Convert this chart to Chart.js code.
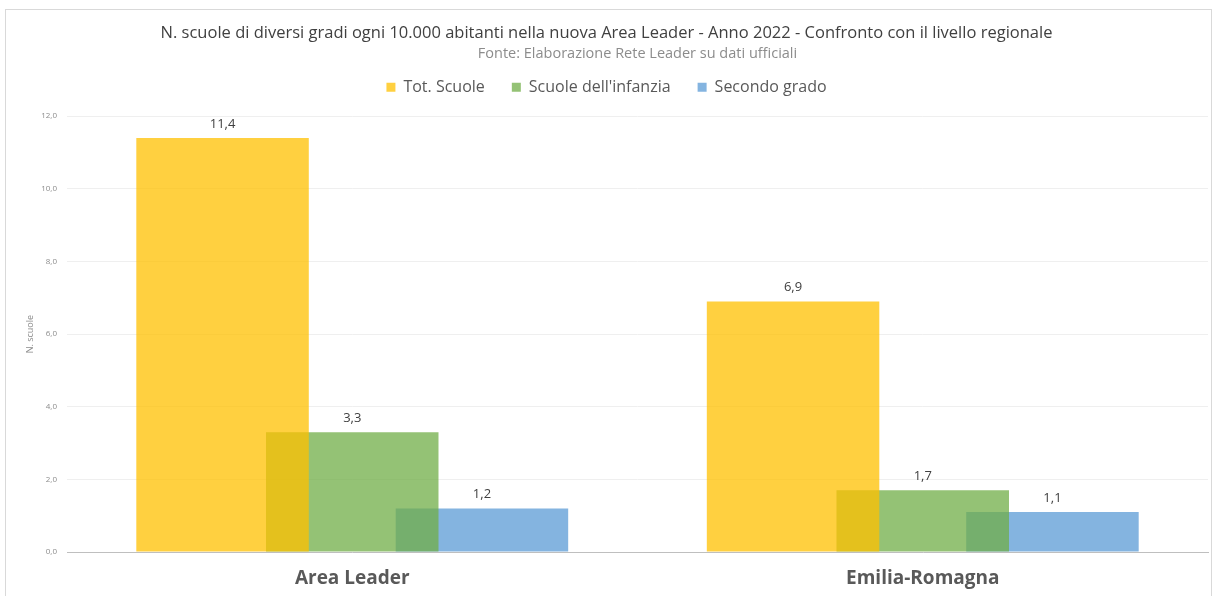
<!DOCTYPE html>
<html>
<head>
<meta charset="utf-8">
<script src="https://cdn.jsdelivr.net/npm/chart.js@4.4.1/dist/chart.umd.min.js"></script>
<style>
  html, body { margin: 0; padding: 0; background: #fff; }
  #wrap { width: 1220px; height: 596px; position: relative; }
</style>
</head>
<body>
<div id="wrap"><canvas id="chart"></canvas></div>
<script>
const categories = ['Area Leader', 'Emilia-Romagna'];
const totScuole = [11.4, 6.9];
const scuoleInfanzia = [3.3, 1.7];
const secondoGrado = [1.2, 1.1];
const yTicks = [0, 2, 4, 6, 8, 10, 12];

const fmt = (v, d) => v.toFixed(d).replace('.', ',');

// light frame around the whole chart
const frame = {
  id: 'frame',
  beforeDraw(chart) {
    const c = chart.ctx;
    c.save();
    c.strokeStyle = '#d9d9d9';
    c.lineWidth = 1;
    c.strokeRect(5.5, 9.5, 1206, 600);
    c.restore();
  },
};

// extra room between legend and plot
const legendGap = {
  id: 'legendGap',
  beforeLayout(chart) {
    const lg = chart.legend;
    if (lg && !lg._gapPatched) {
      const fit = lg.fit;
      lg.fit = function () {
        fit.call(this);
        this.height += 11;
      };
      lg._gapPatched = true;
    }
  },
};

const valueLabels = {
  id: 'valueLabels',
  afterDatasetsDraw(chart) {
    const c = chart.ctx;
    c.save();
    c.font = '13px "Open Sans", sans-serif';
    c.fillStyle = '#404040';
    c.textAlign = 'center';
    c.textBaseline = 'middle';
    chart.data.datasets.forEach((ds, i) => {
      chart.getDatasetMeta(i).data.forEach((bar, j) => {
        c.fillText(fmt(ds.data[j], 1), bar.x, bar.y - 14);
      });
    });
    c.restore();
  },
};

new Chart(document.getElementById('chart'), {
  type: 'bar',
  data: {
    labels: categories,
    datasets: [
      { label: 'Tot. Scuole', data: totScuole, backgroundColor: 'rgba(255, 192, 0, 0.75)' },
      { label: 'Scuole dell\'infanzia', data: scuoleInfanzia, backgroundColor: 'rgba(112, 173, 71, 0.75)' },
      { label: 'Secondo grado', data: secondoGrado, backgroundColor: 'rgba(91, 155, 213, 0.75)' },
    ],
  },
  options: {
    responsive: true,
    maintainAspectRatio: false,
    animation: false,
    categoryPercentage: 0.682,
    barPercentage: 1.33,
    layout: { padding: { left: 5, right: 12, top: 0, bottom: 4 } },
    plugins: {
      title: {
        display: true,
        text: 'N. scuole di diversi gradi ogni 10.000 abitanti nella nuova Area Leader - Anno 2022 - Confronto con il livello regionale',
        color: '#404040',
        font: { family: '"Open Sans", sans-serif', size: 16.5, weight: 'normal' },
        padding: { top: 23, bottom: 0 },
      },
      subtitle: {
        display: true,
        fullSize: false,
        text: 'Fonte: Elaborazione Rete Leader su dati ufficiali',
        color: '#8c8c8c',
        font: { family: '"Open Sans", sans-serif', size: 14.5 },
        padding: { top: 2, bottom: -10 },
      },
      legend: {
        position: 'top',
        labels: {
          color: '#595959',
          font: { family: '"Open Sans", sans-serif', size: 16 },
          boxWidth: 9,
          boxHeight: 9,
          padding: 27,
        },
      },
      tooltip: { enabled: false },
    },
    scales: {
      x: {
        grid: { display: false },
        border: { color: '#bfbfbf' },
        ticks: {
          color: '#595959',
          font: { family: '"Open Sans", sans-serif', size: 19, weight: 'bold' },
          padding: 7,
        },
        afterFit(scale) { scale.height = 40; },
      },
      y: {
        min: 0,
        max: 12,
        afterBuildTicks(scale) { scale.ticks = yTicks.map((v) => ({ value: v })); },
        grid: { color: '#efefef', drawTicks: false },
        border: { display: false },
        ticks: {
          color: '#8c8c8c',
          font: { family: '"Open Sans", sans-serif', size: 8 },
          padding: 10,
          callback: (v) => fmt(v, 1),
        },
        title: {
          display: true,
          text: 'N. scuole',
          color: '#8c8c8c',
          font: { family: '"Open Sans", sans-serif', size: 9 },
          padding: { top: 20 },
        },
        afterFit(scale) { scale.width = 62; },
      },
    },
  },
  plugins: [frame, legendGap, valueLabels],
});
</script>
</body>
</html>
